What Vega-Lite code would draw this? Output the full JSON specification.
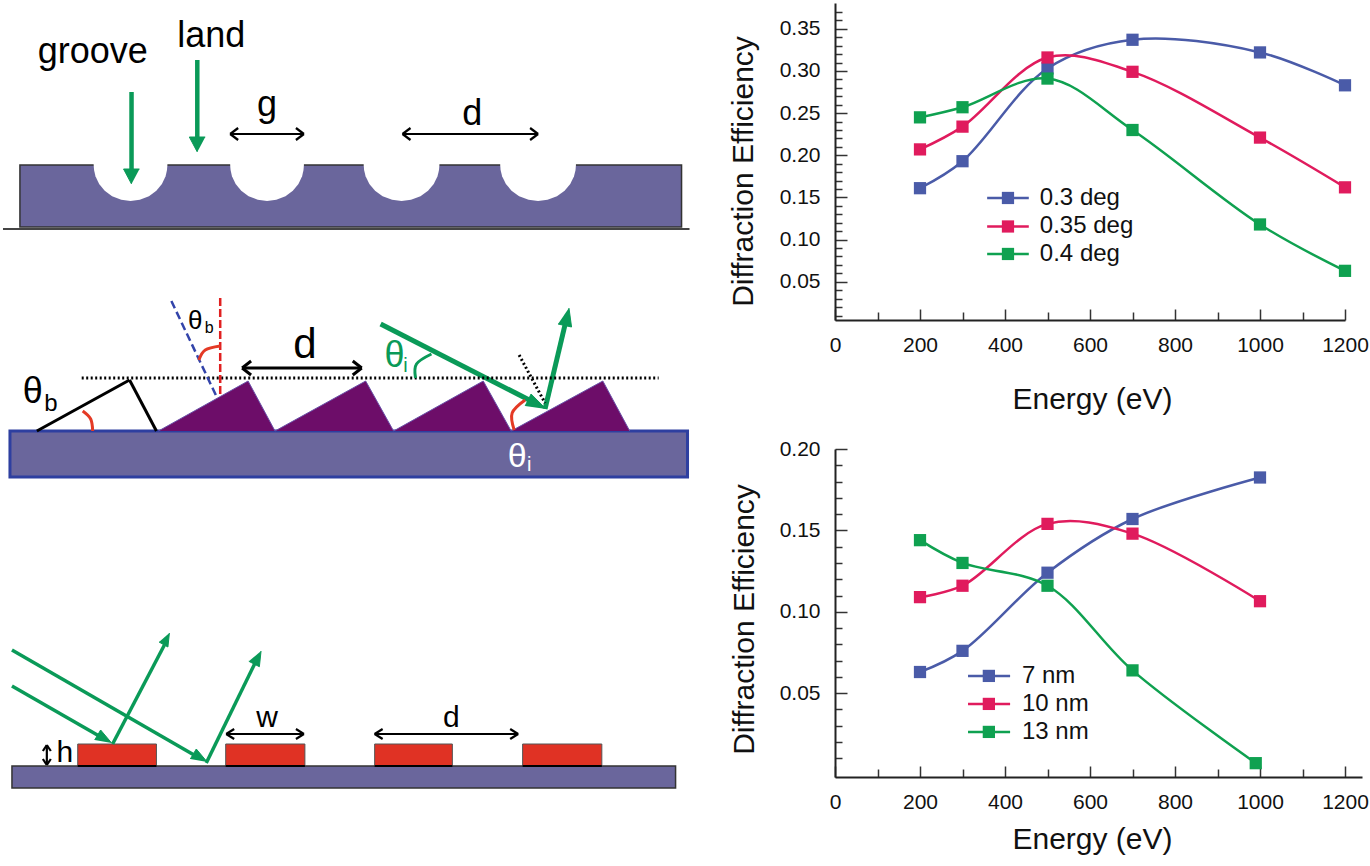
{
"$schema":"https://vega.github.io/schema/vega-lite/v6.json",
"padding":{"left":0,"top":0,"right":0,"bottom":0},
"background":"white",
"config":{"view":{"stroke":null},"text":{"font":"Liberation Sans"}},
"bounds":"flush","spacing":0,
"hconcat":[
{"width":835,"height":863,
"encoding":{"x":{"field":"x","type":"quantitative","scale":{"domain":[0,838],"nice":false,"zero":false},"axis":null},
"y":{"field":"y","type":"quantitative","scale":{"domain":[866,3],"nice":false,"zero":false},"axis":null}},
"layer":[
{"data":{"values":[{"x":20,"y":165,"x2":684,"y2":227},{"x":12,"y":766,"x2":678,"y2":788}]},"mark":{"type":"rect","fill":"#6a669c","stroke":"#333","strokeWidth":1.5},"encoding":{"x2":{"field":"x2"},"y2":{"field":"y2"}}},
{"data":{"values":[{"x":10,"y":431,"x2":690,"y2":477}]},"mark":{"type":"rect","fill":"#6a669c","stroke":"#2e3fa0","strokeWidth":3},"encoding":{"x2":{"field":"x2"},"y2":{"field":"y2"}}},
{"data":{"values":[{"x":3,"y":229,"x2":692,"y2":229}]},"mark":{"type":"rule","stroke":"#444","strokeWidth":2},"encoding":{"x2":{"field":"x2"},"y2":{"field":"y2"}}},
{"data":{"values":[
{"id":1,"x":94,"y":165},{"id":1,"x":94.4,"y":170.1},{"id":1,"x":95.8,"y":176.2},{"id":1,"x":99.5,"y":184},{"id":1,"x":105.1,"y":190.7},{"id":1,"x":112.5,"y":196.2},{"id":1,"x":121.7,"y":199.8},{"id":1,"x":131,"y":201},{"id":1,"x":140.3,"y":199.8},{"id":1,"x":149.5,"y":196.2},{"id":1,"x":156.9,"y":190.7},{"id":1,"x":162.5,"y":184},{"id":1,"x":166.2,"y":176.2},{"id":1,"x":167.6,"y":170.1},{"id":1,"x":168,"y":165},
{"id":2,"x":231,"y":165},{"id":2,"x":231.4,"y":170.1},{"id":2,"x":232.8,"y":176.2},{"id":2,"x":236.5,"y":184},{"id":2,"x":242.1,"y":190.7},{"id":2,"x":249.5,"y":196.2},{"id":2,"x":258.7,"y":199.8},{"id":2,"x":268,"y":201},{"id":2,"x":277.3,"y":199.8},{"id":2,"x":286.5,"y":196.2},{"id":2,"x":293.9,"y":190.7},{"id":2,"x":299.5,"y":184},{"id":2,"x":303.2,"y":176.2},{"id":2,"x":304.6,"y":170.1},{"id":2,"x":305,"y":165},
{"id":3,"x":365,"y":165},{"id":3,"x":365.4,"y":170.1},{"id":3,"x":366.9,"y":176.2},{"id":3,"x":370.7,"y":184},{"id":3,"x":376.4,"y":190.7},{"id":3,"x":384,"y":196.2},{"id":3,"x":393.5,"y":199.8},{"id":3,"x":403,"y":201},{"id":3,"x":412.5,"y":199.8},{"id":3,"x":422,"y":196.2},{"id":3,"x":429.6,"y":190.7},{"id":3,"x":435.3,"y":184},{"id":3,"x":439.1,"y":176.2},{"id":3,"x":440.6,"y":170.1},{"id":3,"x":441,"y":165},
{"id":4,"x":502,"y":165},{"id":4,"x":502.4,"y":170.1},{"id":4,"x":503.9,"y":176.2},{"id":4,"x":507.7,"y":184},{"id":4,"x":513.4,"y":190.7},{"id":4,"x":521,"y":196.2},{"id":4,"x":530.5,"y":199.8},{"id":4,"x":540,"y":201},{"id":4,"x":549.5,"y":199.8},{"id":4,"x":559,"y":196.2},{"id":4,"x":566.6,"y":190.7},{"id":4,"x":572.3,"y":184},{"id":4,"x":576.1,"y":176.2},{"id":4,"x":577.6,"y":170.1},{"id":4,"x":578,"y":165}
]},"mark":{"type":"area","fill":"white"},"encoding":{"y2":{"datum":163},"detail":{"field":"id"}}},
{"data":{"values":[
{"id":1,"o":1,"x":159,"y":431},{"id":1,"o":2,"x":249,"y":381},{"id":1,"o":3,"x":276,"y":431},
{"id":2,"o":1,"x":276,"y":431},{"id":2,"o":2,"x":367,"y":381},{"id":2,"o":3,"x":395,"y":431},
{"id":3,"o":1,"x":395,"y":431},{"id":3,"o":2,"x":485,"y":381},{"id":3,"o":3,"x":513,"y":431},
{"id":4,"o":1,"x":513,"y":431},{"id":4,"o":2,"x":605,"y":381},{"id":4,"o":3,"x":632,"y":431}
]},"mark":{"type":"line","fill":"#6d0d69","stroke":"#6a50a8","strokeWidth":1},"encoding":{"detail":{"field":"id"},"order":{"field":"o"}}},
{"data":{"values":[{"x":78,"y":744,"x2":157,"y2":766},{"x":226.5,"y":744,"x2":306,"y2":766},{"x":376,"y":744,"x2":454,"y2":766},{"x":524.5,"y":744,"x2":604,"y2":766}]},"mark":{"type":"rect","fill":"#e03224","stroke":"#555","strokeWidth":1},"encoding":{"x2":{"field":"x2"},"y2":{"field":"y2"}}},
{"data":{"values":[{"x":132,"y":92,"x2":132,"y2":172},{"x":198,"y":60,"x2":198,"y2":140}]},"mark":{"type":"rule","stroke":"#0a9a58","strokeWidth":4.5},"encoding":{"x2":{"field":"x2"},"y2":{"field":"y2"}}},
{"data":{"values":[{"x":382,"y":324,"x2":535,"y2":402},{"x":547,"y":409,"x2":567,"y2":325}]},"mark":{"type":"rule","stroke":"#0a9a58","strokeWidth":5},"encoding":{"x2":{"field":"x2"},"y2":{"field":"y2"}}},
{"data":{"values":[{"x":12,"y":650,"x2":200,"y2":758},{"x":12,"y":686,"x2":103,"y2":738},{"x":113,"y":744,"x2":165,"y2":645},{"x":207,"y":763,"x2":256,"y2":663}]},"mark":{"type":"rule","stroke":"#0a9a58","strokeWidth":3.5},"encoding":{"x2":{"field":"x2"},"y2":{"field":"y2"}}},
{"data":{"values":[
{"id":1,"o":1,"x":132,"y":184},{"id":1,"o":2,"x":124,"y":169},{"id":1,"o":3,"x":140,"y":169},
{"id":2,"o":1,"x":198,"y":152},{"id":2,"o":2,"x":190,"y":137},{"id":2,"o":3,"x":206,"y":137},
{"id":3,"o":1,"x":548,"y":409},{"id":3,"o":2,"x":533,"y":394},{"id":3,"o":3,"x":527,"y":406},
{"id":4,"o":1,"x":571,"y":308},{"id":4,"o":2,"x":573.6,"y":327},{"id":4,"o":3,"x":560,"y":324},
{"id":5,"o":1,"x":208,"y":762},{"id":5,"o":2,"x":197,"y":749},{"id":5,"o":3,"x":191,"y":759},
{"id":6,"o":1,"x":112,"y":743},{"id":6,"o":2,"x":101,"y":730},{"id":6,"o":3,"x":95,"y":740},
{"id":7,"o":1,"x":170,"y":633},{"id":7,"o":2,"x":168.5,"y":647},{"id":7,"o":3,"x":159.6,"y":642},
{"id":8,"o":1,"x":262,"y":651},{"id":8,"o":2,"x":260.3,"y":666.7},{"id":8,"o":3,"x":249.7,"y":661.3}
]},"mark":{"type":"line","fill":"#0a9a58","stroke":"#0a9a58","strokeWidth":1},"encoding":{"detail":{"field":"id"},"order":{"field":"o"}}},
{"data":{"values":[
{"x":231,"y":134,"x2":305,"y2":134},{"x":231,"y":134,"x2":239,"y2":128},{"x":231,"y":134,"x2":239,"y2":140},{"x":305,"y":134,"x2":297,"y2":128},{"x":305,"y":134,"x2":297,"y2":140},
{"x":404,"y":134,"x2":540,"y2":134},{"x":404,"y":134,"x2":412,"y2":128},{"x":404,"y":134,"x2":412,"y2":140},{"x":540,"y":134,"x2":532,"y2":128},{"x":540,"y":134,"x2":532,"y2":140},
{"x":227,"y":734,"x2":305,"y2":734},{"x":227,"y":734,"x2":235,"y2":729},{"x":227,"y":734,"x2":235,"y2":739},{"x":305,"y":734,"x2":297,"y2":729},{"x":305,"y":734,"x2":297,"y2":739},
{"x":376,"y":734,"x2":520,"y2":734},{"x":376,"y":734,"x2":384,"y2":729},{"x":376,"y":734,"x2":384,"y2":739},{"x":520,"y":734,"x2":512,"y2":729},{"x":520,"y":734,"x2":512,"y2":739},
{"x":47,"y":745,"x2":47,"y2":765},{"x":47,"y":745,"x2":43,"y2":751},{"x":47,"y":745,"x2":51,"y2":751},{"x":47,"y":765,"x2":43,"y2":759},{"x":47,"y":765,"x2":51,"y2":759},
{"x":78,"y":766,"x2":157,"y2":766},{"x":226.5,"y":766,"x2":306,"y2":766},{"x":376,"y":766,"x2":454,"y2":766},{"x":524.5,"y":766,"x2":604,"y2":766}
]},"mark":{"type":"rule","stroke":"black","strokeWidth":2.2},"encoding":{"x2":{"field":"x2"},"y2":{"field":"y2"}}},
{"data":{"values":[
{"x":243,"y":368,"x2":363,"y2":368},{"x":243,"y":368,"x2":252,"y2":361},{"x":243,"y":368,"x2":252,"y2":375},{"x":363,"y":368,"x2":354,"y2":361},{"x":363,"y":368,"x2":354,"y2":375},
{"x":37,"y":431,"x2":130,"y2":380},{"x":130,"y":380,"x2":157,"y2":431}
]},"mark":{"type":"rule","stroke":"black","strokeWidth":3},"encoding":{"x2":{"field":"x2"},"y2":{"field":"y2"}}},
{"data":{"values":[{"x":82,"y":378,"x2":661,"y2":378},{"x":521,"y":355,"x2":547,"y2":403}]},"mark":{"type":"rule","stroke":"black","strokeWidth":3,"strokeDash":[2,2.5]},"encoding":{"x2":{"field":"x2"},"y2":{"field":"y2"}}},
{"data":{"values":[{"x":172,"y":301,"x2":218,"y2":398}]},"mark":{"type":"rule","stroke":"#3344aa","strokeWidth":2.5,"strokeDash":[8,4]},"encoding":{"x2":{"field":"x2"},"y2":{"field":"y2"}}},
{"data":{"values":[{"x":221,"y":298,"x2":221,"y2":395}]},"mark":{"type":"rule","stroke":"#e02020","strokeWidth":2.5,"strokeDash":[8,3]},"encoding":{"x2":{"field":"x2"},"y2":{"field":"y2"}}},
{"data":{"values":[
{"id":1,"o":1,"x":199.6,"y":360},{"id":1,"o":2,"x":206,"y":350},{"id":1,"o":3,"x":221,"y":346},
{"id":2,"o":1,"x":83,"y":411},{"id":2,"o":2,"x":91,"y":419},{"id":2,"o":3,"x":93,"y":431},
{"id":3,"o":1,"x":527,"y":400},{"id":3,"o":2,"x":514,"y":413},{"id":3,"o":3,"x":516,"y":430}
]},"mark":{"type":"line","stroke":"#e43a25","strokeWidth":3,"interpolate":"natural"},"encoding":{"detail":{"field":"id"},"order":{"field":"o"}}},
{"data":{"values":[{"o":1,"x":433,"y":354},{"o":2,"x":418,"y":364},{"o":3,"x":417,"y":378}]},"mark":{"type":"line","stroke":"#0a9a58","strokeWidth":3,"interpolate":"natural"},"encoding":{"order":{"field":"o"}}},
{"data":{"values":[{"x":93,"y":63,"t":"groove"},{"x":212,"y":47,"t":"land"},{"x":268,"y":116,"t":"g"},{"x":474,"y":125,"t":"d"}]},"mark":{"type":"text","fontSize":36,"font":"Liberation Sans","align":"center","baseline":"alphabetic","fill":"black"},"encoding":{"text":{"field":"t"}}},
{"data":{"values":[{"x":306,"y":358,"t":"d"}]},"mark":{"type":"text","fontSize":42,"font":"Liberation Sans","align":"center","baseline":"alphabetic","fill":"black"},"encoding":{"text":{"field":"t"}}},
{"data":{"values":[{"x":268,"y":727,"t":"w"},{"x":453,"y":727,"t":"d"},{"x":65,"y":762,"t":"h"}]},"mark":{"type":"text","fontSize":30,"font":"Liberation Sans","align":"center","baseline":"alphabetic","fill":"black"},"encoding":{"text":{"field":"t"}}},
{"data":{"values":[{"x":33,"y":403,"t":"θ"}]},"mark":{"type":"text","fontSize":36,"font":"Liberation Sans","align":"center","baseline":"alphabetic","fill":"black"},"encoding":{"text":{"field":"t"}}},
{"data":{"values":[{"x":51,"y":411,"t":"b"}]},"mark":{"type":"text","fontSize":24,"font":"Liberation Sans","align":"center","baseline":"alphabetic","fill":"black"},"encoding":{"text":{"field":"t"}}},
{"data":{"values":[{"x":196,"y":329,"t":"θ"}]},"mark":{"type":"text","fontSize":26,"font":"Liberation Sans","align":"center","baseline":"alphabetic","fill":"black"},"encoding":{"text":{"field":"t"}}},
{"data":{"values":[{"x":210,"y":333,"t":"b"}]},"mark":{"type":"text","fontSize":16,"font":"Liberation Sans","align":"center","baseline":"alphabetic","fill":"black"},"encoding":{"text":{"field":"t"}}},
{"data":{"values":[{"x":396,"y":367,"t":"θ"}]},"mark":{"type":"text","fontSize":36,"font":"Liberation Sans","align":"center","baseline":"alphabetic","fill":"#0a9a58"},"encoding":{"text":{"field":"t"}}},
{"data":{"values":[{"x":407,"y":372,"t":"i"}]},"mark":{"type":"text","fontSize":20,"font":"Liberation Sans","align":"center","baseline":"alphabetic","fill":"#0a9a58"},"encoding":{"text":{"field":"t"}}},
{"data":{"values":[{"x":519,"y":467,"t":"θ"}]},"mark":{"type":"text","fontSize":34,"font":"Liberation Sans","align":"center","baseline":"alphabetic","fill":"white"},"encoding":{"text":{"field":"t"}}},
{"data":{"values":[{"x":531,"y":471,"t":"i"}]},"mark":{"type":"text","fontSize":20,"font":"Liberation Sans","align":"center","baseline":"alphabetic","fill":"white"},"encoding":{"text":{"field":"t"}}}
]},
{"vconcat":[
{"width":510,"height":317,
"data":{"values":[
{"energy":200,"eff":0.161,"series":"0.3 deg"},{"energy":300,"eff":0.193,"series":"0.3 deg"},{"energy":500,"eff":0.303,"series":"0.3 deg"},{"energy":700,"eff":0.337,"series":"0.3 deg"},{"energy":1000,"eff":0.322,"series":"0.3 deg"},{"energy":1200,"eff":0.283,"series":"0.3 deg"},
{"energy":200,"eff":0.207,"series":"0.35 deg"},{"energy":300,"eff":0.234,"series":"0.35 deg"},{"energy":500,"eff":0.316,"series":"0.35 deg"},{"energy":700,"eff":0.299,"series":"0.35 deg"},{"energy":1000,"eff":0.221,"series":"0.35 deg"},{"energy":1200,"eff":0.162,"series":"0.35 deg"},
{"energy":200,"eff":0.245,"series":"0.4 deg"},{"energy":300,"eff":0.257,"series":"0.4 deg"},{"energy":500,"eff":0.291,"series":"0.4 deg"},{"energy":700,"eff":0.230,"series":"0.4 deg"},{"energy":1000,"eff":0.118,"series":"0.4 deg"},{"energy":1200,"eff":0.063,"series":"0.4 deg"}
]},
"encoding":{
"x":{"field":"energy","type":"quantitative","scale":{"domain":[0,1200],"nice":false,"zero":false},
"axis":{"title":"Energy (eV)","values":[0,100,200,300,400,500,600,700,800,900,1000,1100,1200],"labelExpr":"datum.value % 200 == 0 ? datum.label : ''","format":"d","grid":false,"domainColor":"#222","domainWidth":2,"tickColor":"#333","tickWidth":1.5,"tickSize":{"condition":{"test":"datum.value % 200 == 0","value":-11},"value":-8},"labelPadding":25,"labelFont":"Liberation Sans","labelFontSize":21,"labelColor":"#111","titleFont":"Liberation Sans","titleFontSize":30,"titleFontWeight":"normal","titleColor":"#111","titleX":257,"titleY":88,"titleAlign":"center","titleBaseline":"alphabetic","labelOverlap":false,"labelBound":false,"labelFlush":false}},
"y":{"field":"eff","type":"quantitative","scale":{"domain":[0.0047,0.3806],"nice":false,"zero":false},
"axis":{"title":"Diffraction Efficiency","values":[0.01,0.02,0.03,0.04,0.05,0.06,0.07,0.08,0.09,0.10,0.11,0.12,0.13,0.14,0.15,0.16,0.17,0.18,0.19,0.20,0.21,0.22,0.23,0.24,0.25,0.26,0.27,0.28,0.29,0.30,0.31,0.32,0.33,0.34,0.35,0.36,0.37],"format":".2f","labelExpr":"round(datum.value*100) % 5 == 0 ? datum.label : ''","grid":false,"domainColor":"#222","domainWidth":2,"tickColor":"#333","tickWidth":1.5,"tickSize":{"condition":{"test":"round(datum.value*100) % 5 == 0","value":-12},"value":-7},"labelPadding":27,"labelFont":"Liberation Sans","labelFontSize":21,"labelColor":"#111","titleFont":"Liberation Sans","titleFontSize":30,"titleFontWeight":"normal","titleColor":"#111","titleX":-92,"titleY":168,"titleAngle":-90,"titleAlign":"center","titleBaseline":"middle","labelOverlap":false,"labelBound":false,"labelFlush":false}},
"stroke":{"field":"series","type":"nominal","legend":null,"scale":{"domain":["0.3 deg","0.35 deg","0.4 deg"],"range":["#4a5ba8","#e01b5d","#0fa150"]}}},
"layer":[
{"mark":{"type":"line","interpolate":"catmull-rom","strokeWidth":2.5}},
{"mark":{"type":"point","filled":true,"shape":"square","size":150,"opacity":1},"encoding":{"stroke":{"value":null},"fill":{"field":"series","type":"nominal","legend":null,"scale":{"domain":["0.3 deg","0.35 deg","0.4 deg"],"range":["#4a5ba8","#e01b5d","#0fa150"]}}}},
{"data":{"values":[{"energy":358,"eff":0.1494,"series":"0.3 deg"},{"energy":456,"eff":0.1494,"series":"0.3 deg"},{"energy":358,"eff":0.1156,"series":"0.35 deg"},{"energy":456,"eff":0.1156,"series":"0.35 deg"},{"energy":358,"eff":0.083,"series":"0.4 deg"},{"energy":456,"eff":0.083,"series":"0.4 deg"}]},"mark":{"type":"line","strokeWidth":2.5}},
{"data":{"values":[{"energy":407,"eff":0.1494,"series":"0.3 deg"},{"energy":407,"eff":0.1156,"series":"0.35 deg"},{"energy":407,"eff":0.083,"series":"0.4 deg"}]},"mark":{"type":"point","filled":true,"shape":"square","size":150,"opacity":1},"encoding":{"stroke":{"value":null},"fill":{"field":"series","type":"nominal","legend":null,"scale":{"domain":["0.3 deg","0.35 deg","0.4 deg"],"range":["#4a5ba8","#e01b5d","#0fa150"]}}}},
{"data":{"values":[{"energy":482,"eff":0.1494,"series":"0.3 deg"},{"energy":482,"eff":0.1156,"series":"0.35 deg"},{"energy":482,"eff":0.083,"series":"0.4 deg"}]},"mark":{"type":"text","align":"left","baseline":"middle","font":"Liberation Sans","fontSize":24,"fill":"#111"},"encoding":{"stroke":{"value":null},"text":{"field":"series"}}}
]},
{"width":527,"height":328,
"data":{"values":[
{"energy":200,"eff":0.063,"series":"7 nm"},{"energy":300,"eff":0.076,"series":"7 nm"},{"energy":500,"eff":0.124,"series":"7 nm"},{"energy":700,"eff":0.157,"series":"7 nm"},{"energy":1000,"eff":0.1825,"series":"7 nm"},
{"energy":200,"eff":0.109,"series":"10 nm"},{"energy":300,"eff":0.116,"series":"10 nm"},{"energy":500,"eff":0.154,"series":"10 nm"},{"energy":700,"eff":0.148,"series":"10 nm"},{"energy":1000,"eff":0.1065,"series":"10 nm"},
{"energy":200,"eff":0.144,"series":"13 nm"},{"energy":300,"eff":0.130,"series":"13 nm"},{"energy":500,"eff":0.116,"series":"13 nm"},{"energy":700,"eff":0.064,"series":"13 nm"},{"energy":990,"eff":0.007,"series":"13 nm"}
]},
"encoding":{
"x":{"field":"energy","type":"quantitative","scale":{"domain":[0,1240],"nice":false,"zero":false},
"axis":{"title":"Energy (eV)","values":[0,100,200,300,400,500,600,700,800,900,1000,1100,1200],"labelExpr":"datum.value % 200 == 0 ? datum.label : ''","format":"d","grid":false,"domainColor":"#222","domainWidth":2,"tickColor":"#333","tickWidth":1.5,"tickSize":{"condition":{"test":"datum.value % 200 == 0","value":-11},"value":-8},"labelPadding":25,"labelFont":"Liberation Sans","labelFontSize":21,"labelColor":"#111","titleFont":"Liberation Sans","titleFontSize":30,"titleFontWeight":"normal","titleColor":"#111","titleX":257,"titleY":71,"titleAlign":"center","titleBaseline":"alphabetic","labelOverlap":false,"labelBound":false,"labelFlush":false}},
"y":{"field":"eff","type":"quantitative","scale":{"domain":[-0.0015,0.2],"nice":false,"zero":false},
"axis":{"title":"Diffraction Efficiency","values":[0.01,0.02,0.03,0.04,0.05,0.06,0.07,0.08,0.09,0.10,0.11,0.12,0.13,0.14,0.15,0.16,0.17,0.18,0.19,0.20],"format":".2f","labelExpr":"round(datum.value*100) % 5 == 0 ? datum.label : ''","grid":false,"domainColor":"#222","domainWidth":2,"tickColor":"#333","tickWidth":1.5,"tickSize":{"condition":{"test":"round(datum.value*100) % 5 == 0","value":-12},"value":-7},"labelPadding":27,"labelFont":"Liberation Sans","labelFontSize":21,"labelColor":"#111","titleFont":"Liberation Sans","titleFontSize":30,"titleFontWeight":"normal","titleColor":"#111","titleX":-91,"titleY":170,"titleAngle":-90,"titleAlign":"center","titleBaseline":"middle","labelOverlap":false,"labelBound":false,"labelFlush":false}},
"stroke":{"field":"series","type":"nominal","legend":null,"scale":{"domain":["7 nm","10 nm","13 nm"],"range":["#4a5ba8","#e01b5d","#0fa150"]}}},
"layer":[
{"mark":{"type":"line","interpolate":"catmull-rom","strokeWidth":2.5}},
{"mark":{"type":"point","filled":true,"shape":"square","size":150,"opacity":1},"encoding":{"stroke":{"value":null},"fill":{"field":"series","type":"nominal","legend":null,"scale":{"domain":["7 nm","10 nm","13 nm"],"range":["#4a5ba8","#e01b5d","#0fa150"]}}}},
{"data":{"values":[{"energy":313,"eff":0.0606,"series":"7 nm"},{"energy":412,"eff":0.0606,"series":"7 nm"},{"energy":313,"eff":0.0434,"series":"10 nm"},{"energy":412,"eff":0.0434,"series":"10 nm"},{"energy":313,"eff":0.0262,"series":"13 nm"},{"energy":412,"eff":0.0262,"series":"13 nm"}]},"mark":{"type":"line","strokeWidth":2.5}},
{"data":{"values":[{"energy":362,"eff":0.0606,"series":"7 nm"},{"energy":362,"eff":0.0434,"series":"10 nm"},{"energy":362,"eff":0.0262,"series":"13 nm"}]},"mark":{"type":"point","filled":true,"shape":"square","size":150,"opacity":1},"encoding":{"stroke":{"value":null},"fill":{"field":"series","type":"nominal","legend":null,"scale":{"domain":["7 nm","10 nm","13 nm"],"range":["#4a5ba8","#e01b5d","#0fa150"]}}}},
{"data":{"values":[{"energy":440,"eff":0.0606,"series":"7 nm"},{"energy":440,"eff":0.0434,"series":"10 nm"},{"energy":440,"eff":0.0262,"series":"13 nm"}]},"mark":{"type":"text","align":"left","baseline":"middle","font":"Liberation Sans","fontSize":24,"fill":"#111"},"encoding":{"stroke":{"value":null},"text":{"field":"series"}}}
]}
],"spacing":129,"bounds":"flush",
"resolve":{"scale":{"fill":"independent","stroke":"independent"},"legend":{"fill":"independent","stroke":"independent"}}}
]}
